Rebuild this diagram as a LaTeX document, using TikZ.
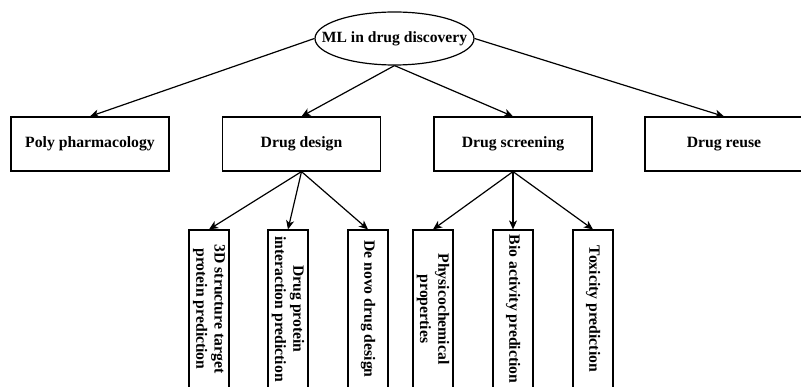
\documentclass[tikz,border=0pt]{standalone}
\usepackage{fontspec}
\setmainfont{Liberation Serif}
\usetikzlibrary{shapes.geometric,arrows.meta}
\tikzset{
  topbox/.style={draw, line width=1.2pt, minimum width=158pt, minimum height=54pt, inner sep=0pt,
    font=\fontsize{15.7}{18.5}\selectfont\bfseries},
  leafbox/.style={draw, line width=1.2pt, rotate=-90, minimum width=158pt, minimum height=40pt, inner sep=0pt,
    align=center, font=\fontsize{15.7}{18.3}\selectfont\bfseries},
  rootnode/.style={draw, ellipse, line width=1.2pt, minimum width=159pt, minimum height=53pt, inner sep=0pt},
  roottext/.style={inner sep=0pt, font=\fontsize{15.6}{18}\selectfont\bfseries},
  conn/.style={line width=1.2pt, -{Stealth[length=9pt,width=8pt,inset=2.5pt]}}
}
\begin{document}
\begin{tikzpicture}[x=1pt,y=-1pt]
\clip (0,0) rectangle (801,387);
\node[rootnode] (root) at (394.5,38.5) {};
\node[roottext] (roottxt) at (root.center) {ML in drug discovery};
\node[topbox] (poly) at (90,144) {Poly pharmacology};
\node[topbox] (design) at (301.5,144) {Drug design};
\node[topbox] (screen) at (513,144) {Drug screening};
\node[topbox] (reuse) at (724,144) {Drug reuse};
\node[leafbox] (l1) at (209,309) {3D structure target\\protein prediction};
\node[leafbox] (l2) at (288,309) {Drug protein\\interaction prediction};
\node[leafbox] (l3) at (368,309) {De novo drug design};
\node[leafbox] (l4) at (433,309) {Physicochemical\\properties};
\node[leafbox] (l5) at (513,309) {Bio activity prediction};
\node[leafbox] (l6) at (593,309) {Toxicity prediction};
\draw[conn] (root.west) -- (poly.north);
\draw[conn] (root.south) -- (design.north);
\draw[conn] (root.south) -- (screen.north);
\draw[conn] (root.east) -- (reuse.north);
\draw[conn] (design.south) -- (l1.west);
\draw[conn] (design.south) -- (l2.west);
\draw[conn] (design.south) -- (l3.west);
\draw[conn] (screen.south) -- (l4.west);
\draw[conn] (screen.south) -- (l5.west);
\draw[conn] (screen.south) -- (l6.west);
\end{tikzpicture}
\end{document}
